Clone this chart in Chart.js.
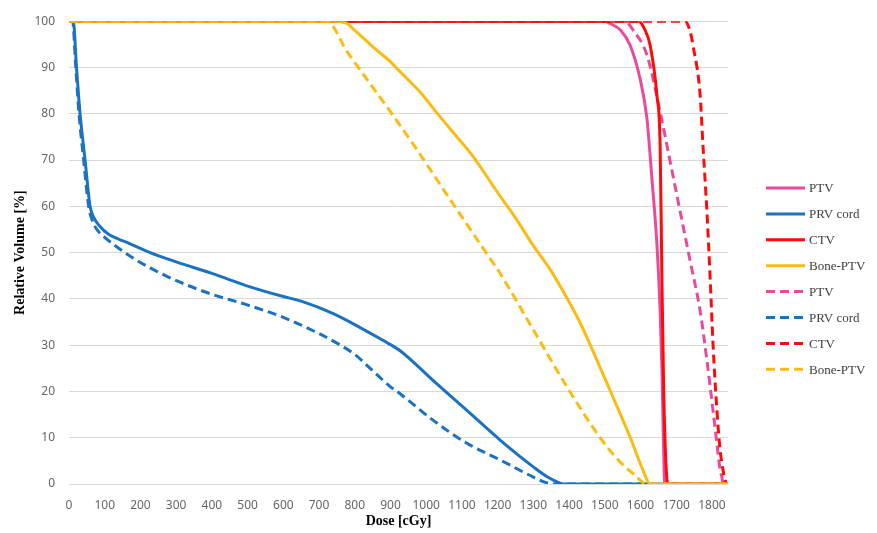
<!DOCTYPE html>
<html>
<head>
<meta charset="utf-8">
<script src="https://cdn.jsdelivr.net/npm/chart.js@4/dist/chart.umd.min.js"></script>
<style>
  html, body { margin: 0; padding: 0; background: #fff; }
  canvas { display: block; }
</style>
</head>
<body>
<canvas id="dvhChart" width="877" height="533"></canvas>
<script>
// dose [cGy] / relative volume [%] pairs
var ptvDose = [0, 1500, 1515, 1545, 1571, 1599, 1618, 1632, 1646, 1655, 1660, 1664, 1668, 1845];
var ptvVol  = [100, 100, 99.5, 98, 94.8, 87.5, 79, 66, 51.8, 37.4, 25, 10, 0, 0];

var prvDose = [0, 12, 21, 31, 45, 59, 70, 85, 110, 162, 227, 300, 400, 507, 600, 650, 740, 815, 880, 927, 1019, 1114, 1207, 1300, 1340, 1375, 1390, 1845];
var prvVol  = [100, 100, 90, 80, 70, 60, 57.5, 55.8, 54, 52.2, 50, 48, 45.5, 42.6, 40.5, 39.5, 36.8, 33.8, 31, 28.8, 22.4, 15.9, 9.5, 3.7, 1.5, 0.2, 0, 0];

var ctvDose = [0, 1595, 1610, 1627, 1646, 1655, 1660, 1665, 1669, 1673, 1677, 1845];
var ctvVol  = [100, 100, 98.5, 94.8, 84, 73, 44.5, 20, 8.8, 2, 0, 0];

var boneDose = [0, 740, 778, 800, 815, 843, 870, 899, 918, 950, 983, 1030, 1075, 1131, 1198, 1250, 1300, 1350, 1394, 1430, 1458, 1515, 1571, 1607, 1627, 1845];
var boneVol  = [100, 100, 99.5, 98, 97, 95, 93.2, 91.3, 89.8, 87.3, 84.7, 80.2, 76, 70.8, 63.2, 57.5, 51.5, 46, 40.2, 35, 30.3, 20.2, 10.1, 3, 0, 0];

var ptv2Dose = [0, 1555, 1580, 1618, 1655, 1683, 1711, 1739, 1767, 1786, 1803, 1815, 1823, 1828, 1831, 1845];
var ptv2Vol  = [100, 100, 98, 92.7, 80.4, 69.7, 58.9, 48.2, 37.4, 26.7, 15.9, 8, 3, 1.5, 0, 0];

var prv2Dose = [0, 10, 19, 28, 41, 55, 65, 78, 100, 162, 227, 311, 400, 507, 600, 700, 760, 800, 850, 900, 927, 1019, 1114, 1207, 1300, 1340, 1355, 1845];
var prv2Vol  = [100, 100, 90, 80, 70, 60, 57, 55, 53.3, 49.7, 46.7, 43.6, 41, 38.5, 36, 32.5, 30, 28, 24.5, 21, 19.5, 13.8, 8.8, 5.2, 1.5, 0.2, 0, 0];

var ctv2Dose = [0, 1725, 1740, 1747, 1767, 1775, 1786, 1795, 1803, 1814, 1822, 1828, 1835, 1842, 1845];
var ctv2Vol  = [100, 100, 97.5, 94.8, 84, 73, 58.9, 44.5, 30.3, 15.9, 8, 4.5, 1.5, 0, 0];

var bone2Dose = [0, 722, 778, 890, 963, 1071, 1165, 1207, 1300, 1394, 1487, 1540, 1580, 1618, 1845];
var bone2Vol  = [100, 100, 93.5, 81.5, 73.5, 61, 50.3, 45.5, 33.3, 21, 10, 5, 2.2, 0, 0];

var seriesNames = ['PTV', 'PRV cord', 'CTV', 'Bone-PTV', 'PTV', 'PRV cord', 'CTV', 'Bone-PTV'];
var xTicks = [0, 100, 200, 300, 400, 500, 600, 700, 800, 900, 1000, 1100, 1200, 1300, 1400, 1500, 1600, 1700, 1800];
var yTicks = [0, 10, 20, 30, 40, 50, 60, 70, 80, 90, 100];

var PINK = '#ea4a9a', BLUE = '#1b72c0', RED = '#ff0a0a', GOLD = '#fbbb12';
var DASH = [9, 5];

function pts(xs, ys) {
	return xs.map(function (x, i) { return { x: x, y: ys[i] }; });
}

function line(i, xs, ys, color, dashed, order) {
	return {
		label: seriesNames[i],
		data: pts(xs, ys),
		borderColor: color,
		backgroundColor: color,
		borderWidth: 3,
		borderDash: dashed ? DASH : [],
		pointRadius: 0,
		fill: false,
		cubicInterpolationMode: 'monotone',
		order: order
	};
}

var datasets = [
	line(0, ptvDose, ptvVol, PINK, false, 4),
	line(1, prvDose, prvVol, BLUE, false, 6),
	line(2, ctvDose, ctvVol, RED, false, 2),
	line(3, boneDose, boneVol, GOLD, false, 1),
	line(4, ptv2Dose, ptv2Vol, PINK, true, 5),
	line(5, prv2Dose, prv2Vol, BLUE, true, 7),
	line(6, ctv2Dose, ctv2Vol, RED, true, 3),
	line(7, bone2Dose, bone2Vol, GOLD, true, 0)
];

// legend drawn by hand so the rows sit where the reference has them
var sideLegend = {
	id: 'sideLegend',
	afterDraw: function (chart) {
		var c = chart.ctx;
		var x0 = chart.chartArea.right + 38;
		c.save();
		c.font = '13px "Liberation Serif", "Times New Roman", serif';
		c.textBaseline = 'middle';
		c.fillStyle = '#404040';
		chart.data.datasets.forEach(function (ds, i) {
			var y = 188 + i * 25.9;
			c.beginPath();
			c.setLineDash(ds.borderDash);
			c.lineWidth = 3;
			c.strokeStyle = ds.borderColor;
			c.moveTo(x0, y);
			c.lineTo(x0 + 39, y);
			c.stroke();
			c.setLineDash([]);
			c.fillText(ds.label, x0 + 43, y + 1);
		});
		c.restore();
	}
};

var ctx = document.getElementById('dvhChart').getContext('2d');
var dvhChart = new Chart(ctx, {
	type: 'line',
	data: { datasets: datasets },
	plugins: [sideLegend],
	options: {
		responsive: false,
		animation: false,
		devicePixelRatio: 1,
		layout: { padding: { top: 19, right: 149, left: 0, bottom: 0 } },
		plugins: {
			legend: { display: false },
			tooltip: { enabled: false }
		},
		scales: {
			x: {
				type: 'linear',
				min: 0,
				max: 1845,
				afterFit: function (s) { s.height = 49; },
				afterBuildTicks: function (s) { s.ticks = xTicks.map(function (v) { return { value: v }; }); },
				grid: { display: false, drawTicks: false },
				border: { display: false },
				ticks: {
					autoSkip: false,
					maxRotation: 0,
					padding: 14,
					color: '#666',
					font: { family: '"Noto Sans", sans-serif', size: 12 },
					callback: function (v) { return String(v); }
				},
				title: {
					display: true,
					text: 'Dose [cGy]',
					color: '#000',
					padding: { top: 0, bottom: 3 },
					font: { family: '"Liberation Serif", "Times New Roman", serif', size: 14, weight: 'bold' }
				}
			},
			y: {
				min: 0,
				max: 100,
				afterFit: function (s) { s.width = 69; },
				afterBuildTicks: function (s) { s.ticks = yTicks.map(function (v) { return { value: v }; }); },
				grid: { color: '#d9d9d9', lineWidth: 1, drawTicks: false },
				border: { display: false },
				ticks: {
					padding: 14,
					color: '#666',
					font: { family: '"Noto Sans", sans-serif', size: 12 },
					callback: function (v) { return String(v); }
				},
				title: {
					display: true,
					text: 'Relative Volume [%]',
					color: '#000',
					padding: { top: 12, bottom: 0 },
					font: { family: '"Liberation Serif", "Times New Roman", serif', size: 14, weight: 'bold' }
				}
			}
		}
	}
});
</script>
</body>
</html>
